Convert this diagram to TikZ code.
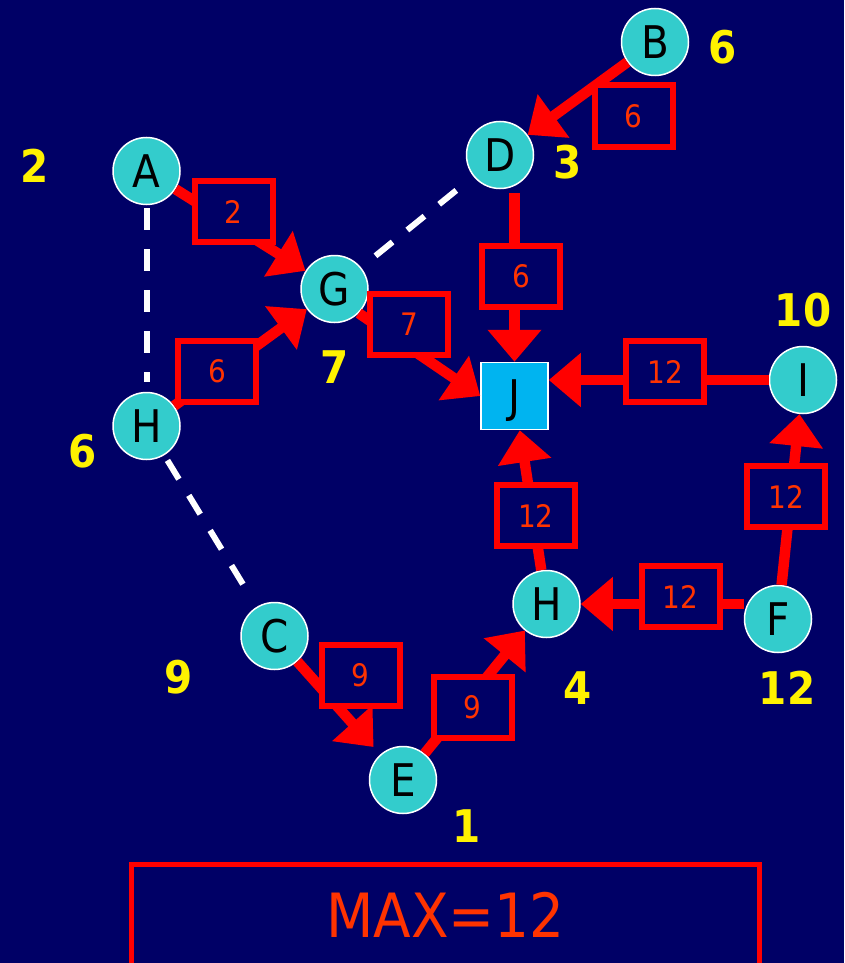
\documentclass[tikz,border=0pt]{standalone}
\usepackage{fontspec}
\setmainfont{DejaVu Sans Condensed}
\usetikzlibrary{arrows.meta}

\definecolor{bgnavy}{RGB}{0,0,102}
\definecolor{nodeteal}{RGB}{51,204,204}
\definecolor{sinkblue}{RGB}{0,180,240}
\definecolor{wtext}{RGB}{255,51,0}

\tikzset{
  vertex/.style={circle, draw=white, line width=1.5pt, fill=nodeteal, minimum size=67pt,
    inner sep=0pt, text depth=0pt, font=\fontsize{45}{45}\selectfont},
  sink/.style={rectangle, draw=white, line width=1.5pt, fill=sinkblue, minimum size=67pt,
    inner sep=0pt, text depth=0pt, font=\fontsize{45}{45}\selectfont},
  weight/.style={draw=red, line width=6pt, fill=bgnavy, minimum width=78pt, minimum height=61pt,
    inner sep=0pt, text=wtext, font=\fontsize{31}{31}\selectfont},
  act/.style={red, line width=10.5pt, -{Triangle[length=32pt,width=52pt]}},
  slack/.style={white, line width=6pt, dash pattern=on 22pt off 19pt},
  tag/.style={text=yellow, inner sep=0pt, font=\bfseries\fontsize{45}{45}\selectfont},
  maxbox/.style={draw=red, line width=5pt, fill=bgnavy, minimum width=628pt, minimum height=101pt,
    inner sep=0pt, text=wtext, font=\fontsize{61}{61}\selectfont}
}

\begin{document}
\begin{tikzpicture}[x=1pt, y=-1pt]
  \useasboundingbox (0,0) rectangle (844,963);
  \fill[bgnavy] (0,0) rectangle (844,963);

  % events
  \node[vertex] (B) at (655,42) {B};
  \node[vertex] (D) at (500,155) {D};
  \node[vertex] (A) at (146.5,171) {A};
  \node[vertex] (G) at (334.5,289) {G};
  \node[vertex] (H1) at (146.5,426) {H};
  \node[sink] (J) at (514.5,396) {J};
  \node[vertex] (I) at (803,380) {I};
  \node[vertex] (H2) at (546.5,604) {H};
  \node[vertex] (F) at (778,619) {F};
  \node[vertex] (C) at (274.5,636) {C};
  \node[vertex] (E) at (403,780) {E};

  % slack links
  \draw[slack, shorten <=3pt, shorten >=10pt] (A) -- (H1);
  \draw[slack, shorten <=22pt, shorten >=6pt] (D) -- (G);
  \draw[slack, shorten <=6pt, shorten >=14pt] (H1) -- (C);

  % activities
  \draw[act] (B) -- (D);
  \draw[act] (A) -- (G);
  \draw[act, shorten <=4pt] (D.south -| J.north) -- (J.north);
  \draw[act] (G.south east) -- (J.west);
  \draw[act] (H1) -- (G);
  \draw[act] (I.west) -- (I.west -| J.east);
  \draw[act] (F) -- (I);
  \draw[act] (H2) -- (J);
  \draw[act] (F.west |- H2) -- (H2.east);
  \draw[act, shorten >=10pt] (C) -- (E);
  \draw[act] (E) -- (H2);

  % durations
  \foreach \n/\x/\y/\d in {wBD/633.5/116/6, wDJ/521/276.5/6, wIJ/665/371.5/12,
      wAG/233.5/211.5/2, wHG/217/371.5/6, wGJ/409/324/7, wHJ/536/515.5/12,
      wFI/786/496.5/12, wFH/680.5/596.5/12, wCE/360.5/675.5/9, wEH/472.5/707/9}
    \node[weight] (\n) at (\x,\y) {\d};

  % earliest times
  \foreach \n/\x/\y/\t in {tB/723/47/6, tD/568/162/3, tA/35/166/2, tG/335/367/7,
      tI/803/310/10, tH1/83/451/6, tC/179/677/9, tH2/578/688/4, tF/787/688/12, tE/467/826/1}
    \node[tag] (\n) at (\x,\y) {\t};

  \node[maxbox] (total) at (445.5,915) {MAX=12};
\end{tikzpicture}
\end{document}
